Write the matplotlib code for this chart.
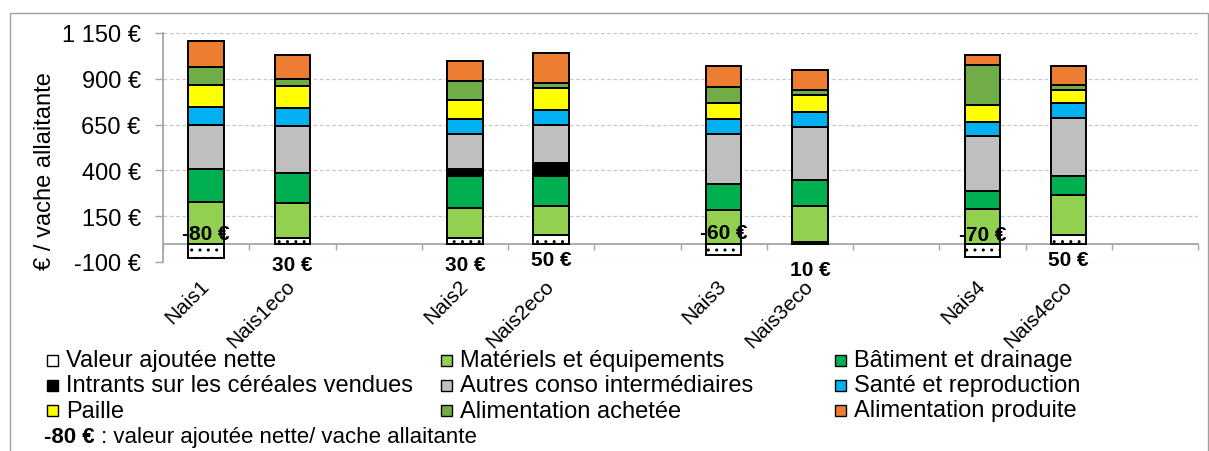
import matplotlib
matplotlib.use("Agg")
import matplotlib.pyplot as plt
from matplotlib.patches import Rectangle
from matplotlib.ticker import FixedLocator
import numpy as np

plt.rcParams['font.family'] = ['Liberation Sans', 'DejaVu Sans']
plt.rcParams['hatch.linewidth'] = 1.0

# ---------------- data ----------------
farms = ["Nais1", "Nais1eco", "Nais2", "Nais2eco", "Nais3", "Nais3eco", "Nais4", "Nais4eco"]
valeur_ajoutee = [-80, 30, 30, 50, -60, 10, -70, 50]
materiels = [228, 191, 165, 156, 186, 198, 188, 218]
batiment = [177, 167, 172, 166, 140, 140, 100, 102]
intrants = [0, 0, 43, 69, 0, 0, 0, 0]
autres_conso = [242, 252, 186, 206, 270, 288, 299, 317]
sante = [99, 98, 82, 80, 82, 82, 77, 80]
paille = [120, 121, 108, 122, 89, 91, 94, 70]
alim_achetee = [100, 42, 100, 29, 90, 29, 217, 30]
alim_produite = [142, 127, 111, 161, 113, 110, 55, 103]

series_names = ["Valeur ajoutée nette", "Matériels et équipements", "Bâtiment et drainage",
                "Intrants sur les céréales vendues", "Autres conso intermédiaires",
                "Santé et reproduction", "Paille", "Alimentation achetée", "Alimentation produite"]
series_colors = ["#FFFFFF", "#92D050", "#00B050", "#000000", "#BFBFBF",
                 "#00B0F0", "#FFFF00", "#70AD47", "#ED7D31"]
yticks = [-100, 150, 400, 650, 900, 1150]
footnote_bold = "-80 €"
footnote_rest = " : valeur ajoutée nette/ vache allaitante"

# label placement (data units) for the net value annotations
van_label_y = [54, -115, -115, -85, 62, -140, 51, -85]

# ---------------- figure ----------------
W, H = 1209, 452
fig = plt.figure(figsize=(W / 100, H / 100), dpi=100)
ax = fig.add_axes([163 / W, 1 - 263 / H, (1198 - 163) / W, (263 - 34) / H])

for s in ['top', 'right']:
    ax.spines[s].set_visible(False)
ax.spines['bottom'].set_position(('data', 0))
ax.spines['bottom'].set_color('#A6A6A6')
ax.spines['bottom'].set_linewidth(1.3)
ax.spines['left'].set_color('#A6A6A6')
ax.spines['left'].set_linewidth(1.3)

pos = np.array([i + i // 2 for i in range(len(farms))])
bw = 0.41
edge = dict(edgecolor='black', linewidth=1.4)

van = np.array(valeur_ajoutee, float)
ax.bar(pos, van, bw, color='white', hatch='..', zorder=3, **edge)
bottom = np.maximum(van, 0)
stack = [materiels, batiment, intrants, autres_conso, sante, paille, alim_achetee, alim_produite]
for vals, color in zip(stack, series_colors[1:]):
    v = np.array(vals, float)
    m = v > 0
    ax.bar(pos[m], v[m], bw, bottom=bottom[m], color=color, zorder=3, **edge)
    bottom = bottom + v

for x, v, ly in zip(pos, valeur_ajoutee, van_label_y):
    ax.text(x, ly, f"{v} €", ha='center', va='center', fontsize=15, fontweight='bold',
            zorder=6, clip_on=False)

# axes styling
ax.set_xlim(-0.5, 11.5)
ax.set_ylim(min(yticks), max(yticks))
ax.set_yticks(yticks)
ax.set_yticklabels([f"{t:,}".replace(",", " ") + " €" for t in yticks], fontsize=17)
ax.tick_params(axis='y', length=6, width=1, color='#A6A6A6', pad=10)

ax.xaxis.set_minor_locator(FixedLocator(np.arange(-0.5, 12, 1)))
ax.tick_params(axis='x', which='major', length=0, pad=28)
ax.tick_params(axis='x', which='minor', length=4.5, width=1, color='#A6A6A6', direction='out')
ax.set_xticks(pos)
ax.set_xticklabels(farms, fontsize=15, rotation=45, ha='right', va='center',
                   rotation_mode='anchor')

ax.yaxis.grid(True, linestyle=(0, (3, 2)), color='#C8C8C8', linewidth=0.9)
ax.set_axisbelow(True)

ax.set_ylabel('€ / vache allaitante', fontsize=17)
ax.yaxis.set_label_coords(-0.103, 0.40)

# ---------------- legend (row-major, 3 columns) ----------------
col_x = [46.7, 440.7, 835]
row_y = [361, 386, 411.5]
msz = 11
for k, (name, color) in enumerate(zip(series_names, series_colors)):
    r, c = divmod(k, 3)
    x0, yc = col_x[c], row_y[r]
    fig.patches.append(Rectangle((x0 / W, 1 - (yc + msz / 2) / H), msz / W, msz / H,
                                 transform=fig.transFigure, facecolor=color,
                                 edgecolor='black', linewidth=1.0))
    fig.text((x0 + 19) / W, 1 - yc / H, name, fontsize=17, ha='left', va='center')

t1 = fig.text(44 / W, 1 - 438 / H, footnote_bold, fontsize=16, fontweight='bold',
              ha='left', va='center')
ax.annotate(footnote_rest, xy=(1, 0.5), xycoords=t1, fontsize=16,
            ha='left', va='center', annotation_clip=False)

# outer frame
fig.patches.append(Rectangle((10 / W, -0.1), (1208 - 10) / W, 1.1 - 14 / H,
                             transform=fig.transFigure, fill=False,
                             edgecolor='#A0A0A0', linewidth=1.0))

fig.savefig("out.png", dpi=100)
